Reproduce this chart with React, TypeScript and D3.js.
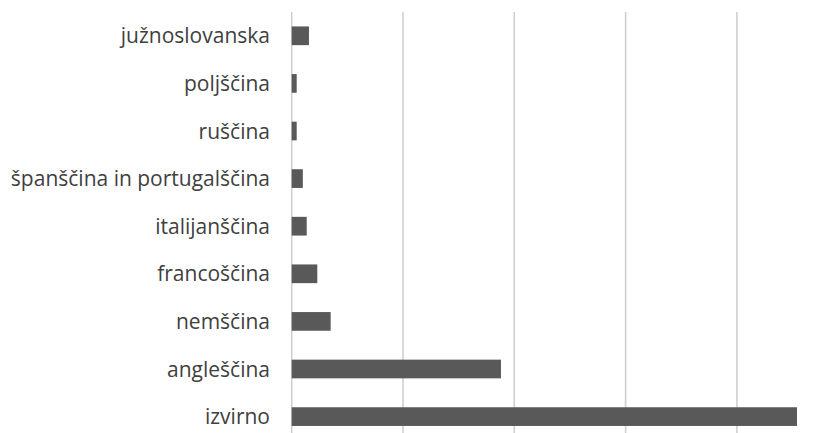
import React from "react";
import * as d3 from "d3";

const categories = [
  "južnoslovanska",
  "poljščina",
  "ruščina",
  "španščina in portugalščina",
  "italijanščina",
  "francoščina",
  "nemščina",
  "angleščina",
  "izvirno",
];
const values = [15.5, 4.5, 4.5, 10, 13.5, 23, 35, 188, 454];
const gridTicks = [0, 100, 200, 300, 400];

const W = 840;
const H = 433;

export default function App() {
  const x = d3.scaleLinear().domain([0, 500]).range([291.7, 291.7 + 556.5]);
  const y = d3
    .scaleBand<string>()
    .domain(categories)
    .range([12, 440.4])
    .paddingInner(0.607)
    .paddingOuter(0.3035);

  return (
    <svg
      width={W}
      height={H}
      style={{ position: "absolute", left: 0, top: 0, background: "#fff" }}
    >
      {gridTicks.map((t) => (
        <line
          key={t}
          x1={x(t)}
          x2={x(t)}
          y1={12}
          y2={440}
          stroke="#d0d0d0"
          strokeWidth={1.6}
        />
      ))}
      {categories.map((c, i) => (
        <rect
          key={c}
          x={x(0)}
          y={y(c)!}
          width={x(values[i]) - x(0)}
          height={y.bandwidth()}
          fill="#595959"
        />
      ))}
      {categories.map((c) => (
        <text
          key={c}
          x={270}
          y={y(c)! + y.bandwidth() / 2}
          dy="0.36em"
          textAnchor="end"
          fontFamily="'Open Sans', 'Noto Sans', sans-serif"
          fontSize={21}
          fill="#404040"
        >
          {c}
        </text>
      ))}
    </svg>
  );
}
